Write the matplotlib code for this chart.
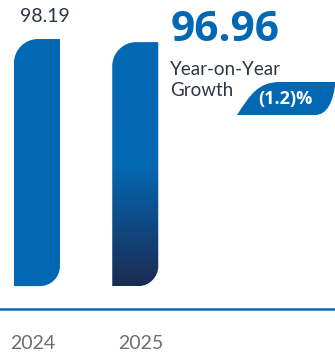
import numpy as np
import matplotlib
matplotlib.use("Agg")
import matplotlib.pyplot as plt
from matplotlib.path import Path
from matplotlib.patches import PathPatch
from matplotlib.colors import LinearSegmentedColormap
from matplotlib.transforms import ScaledTranslation

# 数据
years = ["2024", "2025"]
values = [98.19, 96.96]
growth_label = "(1.2)%"

BLUE = "#0368b3"
NAVY = "#1b2b52"
GRAY = "#6e6e6e"
DARK = "#2e3645"

W, H, DPI = 335, 354, 100
fig = plt.figure(figsize=(W / DPI, H / DPI), dpi=DPI)
ax = fig.add_axes([0, 45 / H, 1, (H - 45) / H])
ax.set_xlim(-0.376, 3.032)
ax.set_ylim(-9.1, 113.7)

# 像素 -> 数据单位
px_x = (ax.get_xlim()[1] - ax.get_xlim()[0]) / W
px_y = (ax.get_ylim()[1] - ax.get_ylim()[0]) / (H - 45)


def leaf_path(x0, x1, y0, y1, r_tl, r_br):
    # 左上角和右下角是圆角的柱子
    k = 0.5523
    ax_tl, ay_tl = r_tl * px_x, r_tl * px_y
    ax_br, ay_br = r_br * px_x, r_br * px_y
    verts = [
        (x0, y0),
        (x0, y1 - ay_tl),
        (x0, y1 - ay_tl + k * ay_tl), (x0 + ax_tl - k * ax_tl, y1), (x0 + ax_tl, y1),
        (x1, y1),
        (x1, y0 + ay_br),
        (x1, y0 + ay_br - k * ay_br), (x1 - ax_br + k * ax_br, y0), (x1 - ax_br, y0),
        (x0, y0),
    ]
    codes = [Path.MOVETO, Path.LINETO,
             Path.CURVE4, Path.CURVE4, Path.CURVE4,
             Path.LINETO, Path.LINETO,
             Path.CURVE4, Path.CURVE4, Path.CURVE4,
             Path.CLOSEPOLY]
    return Path(verts, codes)


bw = 0.468
grad = LinearSegmentedColormap.from_list("g", [NAVY, BLUE])
for i, v in enumerate(values):
    p = leaf_path(i - bw / 2, i + bw / 2, 0, v, 24, 20)
    if i == 0:
        ax.add_patch(PathPatch(p, facecolor=BLUE, edgecolor="none"))
    else:
        patch = PathPatch(p, facecolor="none", edgecolor="none")
        ax.add_patch(patch)
        t = np.linspace(0, 1, 256)
        g = np.clip(t / 0.5, 0, 1).reshape(-1, 1)
        im = ax.imshow(g, cmap=grad, origin="lower", aspect="auto",
                       extent=(i - bw / 2, i + bw / 2, 0, v), zorder=2)
        im.set_clip_path(patch)

# 轴线和刻度
for s in ["top", "right", "left"]:
    ax.spines[s].set_visible(False)
ax.spines["bottom"].set_color(BLUE)
ax.spines["bottom"].set_linewidth(1.8)
ax.set_yticks([])
ax.set_xticks(range(len(years)))
ax.set_xticklabels(years, fontsize=14, color=GRAY, family="Lato")
ax.tick_params(axis="x", length=0, pad=19)
for lab, dx in zip(ax.get_xticklabels(), [-4, 6]):
    lab.set_transform(lab.get_transform() + ScaledTranslation(dx / DPI, 0, fig.dpi_scale_trans))
ax.set_facecolor("none")

# 数值标签
ax.annotate(f"{values[0]:.2f}", (0, values[0]), xytext=(5.8, 10),
            textcoords="offset points", ha="center", va="bottom",
            fontsize=14, color=DARK, family="Lato")
ax.annotate(f"{values[1]:.2f}", (1 + bw / 2, values[1]), xytext=(8.6, 0.5),
            textcoords="offset points", ha="left", va="baseline",
            fontsize=30.5, fontweight="bold", color=BLUE, family="Open Sans")

fig.text(170 / W, 1 - 75 / H, "Year-on-Year", ha="left", va="baseline",
         fontsize=13.5, color=DARK, family="Lato")
fig.text(170 / W, 1 - 96 / H, "Growth", ha="left", va="baseline",
         fontsize=13.5, color=DARK, family="Lato")

# 增长率标签底色
bverts = [(237, 115), (250, 95), (258, 82), (280, 82), (335, 82), (335, 86),
          (333, 100), (328, 115), (315, 115), (237, 115)]
bcodes = [Path.MOVETO, Path.CURVE4, Path.CURVE4, Path.CURVE4, Path.LINETO,
          Path.LINETO, Path.CURVE4, Path.CURVE4, Path.CURVE4, Path.CLOSEPOLY]
bverts = [(x / W, 1 - y / H) for x, y in bverts]
fig.patches.append(PathPatch(Path(bverts, bcodes), facecolor=BLUE,
                             edgecolor="none", transform=fig.transFigure))
fig.text(285 / W, 1 - 99 / H, growth_label, ha="center", va="center",
         fontsize=13, fontweight="bold", color="white", family="Open Sans")

fig.savefig("out.png", dpi=DPI)
